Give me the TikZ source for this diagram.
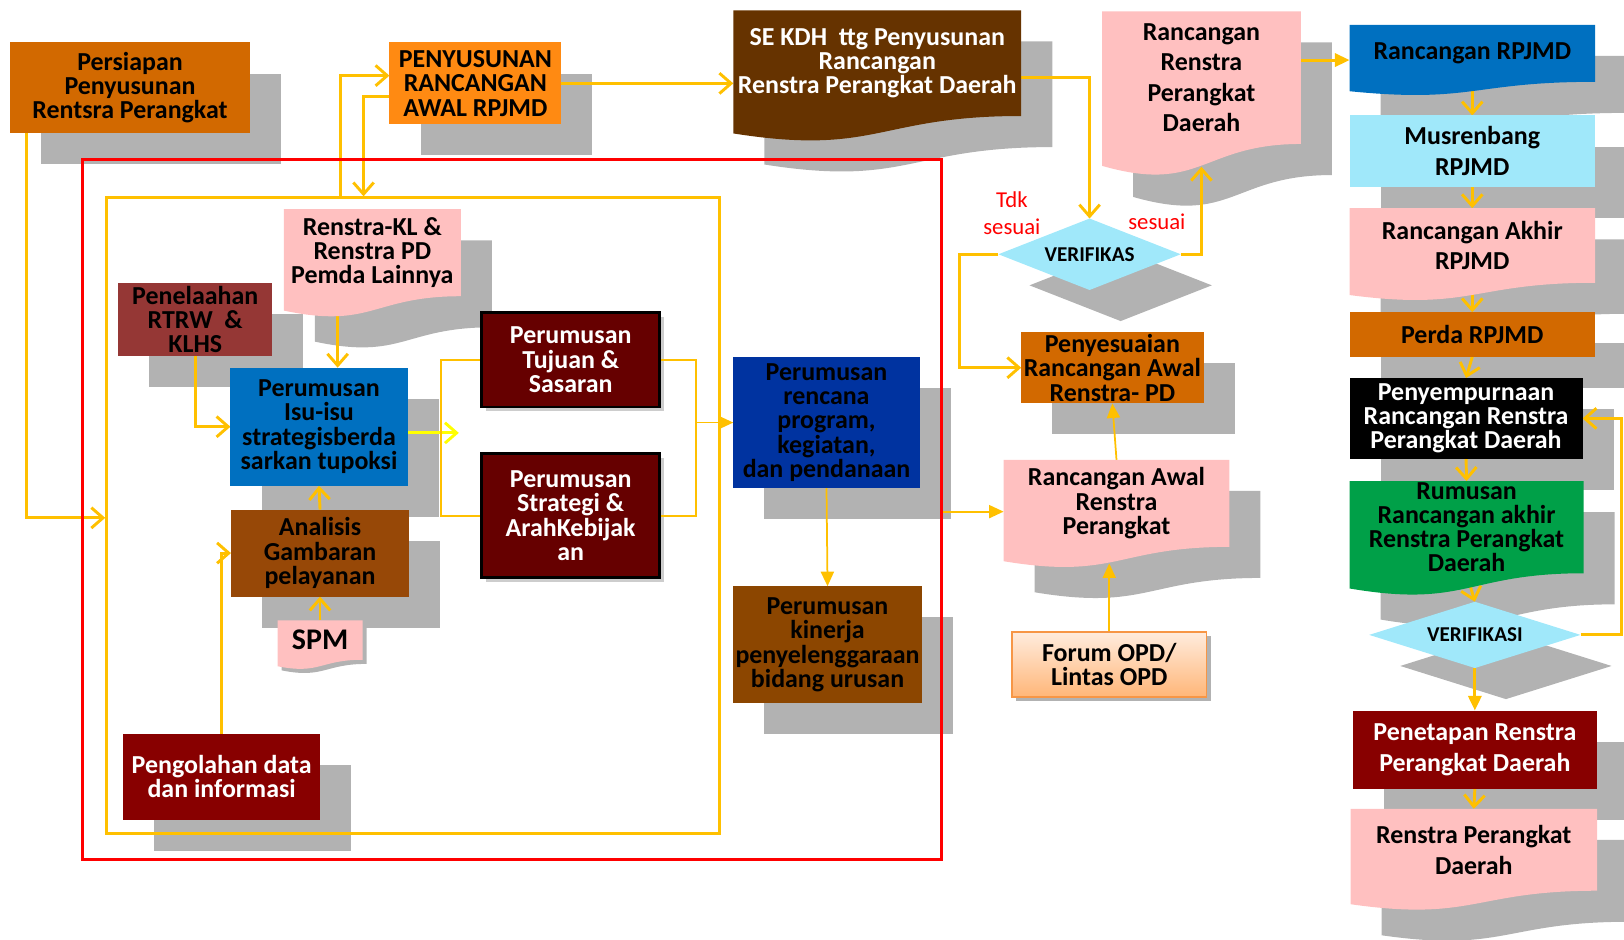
\documentclass[tikz,border=0pt]{standalone}
\usepackage{fontspec}
\setmainfont{Carlito}
\usepackage{tikz}
\usetikzlibrary{positioning}
\usetikzlibrary{calc}
\usetikzlibrary{arrows.meta}
\usetikzlibrary{shapes.geometric}

\definecolor{amber}{RGB}{255,192,0}
\definecolor{brightyellow}{RGB}{255,255,0}
\definecolor{orangebox}{RGB}{210,105,0}
\definecolor{brightorange}{RGB}{255,138,18}
\definecolor{sebrown}{RGB}{102,51,0}
\definecolor{pinkbox}{RGB}{255,192,192}
\definecolor{bluebox}{RGB}{0,112,192}
\definecolor{cyanbox}{RGB}{160,232,250}
\definecolor{greenbox}{RGB}{0,160,72}
\definecolor{maroonbox}{RGB}{136,0,0}
\definecolor{penelaahcol}{RGB}{149,55,53}
\definecolor{analisiscol}{RGB}{151,72,7}
\definecolor{tujuancol}{RGB}{102,0,0}
\definecolor{progcol}{RGB}{0,51,160}
\definecolor{kinerjacol}{RGB}{140,70,0}
\definecolor{shadowgray}{RGB}{178,178,178}
\definecolor{lightshadow}{RGB}{205,205,205}
\definecolor{forumtop}{RGB}{255,236,222}
\definecolor{forumbot}{RGB}{255,182,120}
\definecolor{forumedge}{RGB}{247,150,70}

\newcommand{\boxfont}{\bfseries\fontsize{17.8}{16.7}\selectfont}
\newcommand{\widefont}{\bfseries\fontsize{17.8}{21}\selectfont}

% wavy bottom document shape, #3 = offset for the shadow copy
\newcommand{\docshape}[3]{%
  \fill[#1] let \p1=($(#2.north west)+(#3,#3)$), \p2=($(#2.south east)+(#3,#3)$), \n1={\y1-\y2} in
    (\p1) -- (\x2,\y1) -- (\p2)
    .. controls ({0.5*\x1+0.5*\x2},\y2) and ({0.5*\x1+0.5*\x2},{\y2-0.38*\n1})
    .. (\x1,{\y2-0.165*\n1}) -- cycle;}
\newcommand{\boxshadow}[3]{\fill[#3] ($(#1.north west)+(#2,#2)$) rectangle ($(#1.south east)+(#2,#2)$);}
\newcommand{\diashadow}[2]{\fill[shadowgray] ($(#1.north)+(#2,#2)$) -- ($(#1.east)+(#2,#2)$) -- ($(#1.south)+(#2,#2)$) -- ($(#1.west)+(#2,#2)$) -- cycle;}

\pgfdeclarelayer{shadelayer}
\pgfdeclarelayer{connlayer}
\pgfdeclarelayer{filllayer}
\pgfsetlayers{shadelayer,connlayer,filllayer,main}

\tikzset{
  box/.style={rectangle, inner sep=0pt, outer sep=0pt, align=center, font=\boxfont},
  widebox/.style={box, font=\widefont},
  sz/.style 2 args={minimum width=#1*0.025cm, minimum height=#2*0.025cm},
  darkbox/.style={box, fill=tujuancol, draw=black, line width=2pt, text=white},
  verif/.style={diamond, fill=cyanbox, inner sep=0pt, outer sep=0pt, font=\bfseries\fontsize{14.5}{16}\selectfont},
  remark/.style={align=center, text=red, inner sep=0pt, font=\fontsize{15.6}{18.5}\selectfont},
  flow/.style={draw=amber, line width=2pt},
  thinflow/.style={draw=amber, line width=1.2pt},
  opentip/.style={-{Straight Barb[length=8pt,width=14pt]}},
  solidtip/.style={-{Triangle[length=10pt,width=9pt]}}
}

\begin{document}
\begin{tikzpicture}[x=0.025cm, y=-0.025cm]
		\useasboundingbox (0,0) rectangle (1568,907);

		% frames
		\node[rectangle, draw=red, line width=2pt, sz={829}{676}](frame) at (494.5,492){};
		\node[rectangle, draw=amber, line width=2pt, sz={592}{614}](loop) at (399,498){};

		% top row
		\node[box, sz={231}{87}, fill=orangebox](persiapan) at (125.5,84.5){Persiapan\\Penyusunan\\Rentsra Perangkat};
		\node[box, sz={166}{79}, fill=brightorange](penyusunan) at (459,80.5){PENYUSUNAN\\RANCANGAN\\AWAL RPJMD};
		\node[box, sz={278}{102}, text=white](sekdh) at (847,61){SE KDH\ \ ttg Penyusunan\\Rancangan\\Renstra Perangkat Daerah};
		\node[widebox, sz={192}{128}](rancRenstra) at (1160,75){Rancangan\\Renstra\\Perangkat\\Daerah};

		% right column
		\node[box, sz={237}{55}](rancRPJMD) at (1421.5,51.5){Rancangan RPJMD};
		\node[widebox, sz={237}{69}, fill=cyanbox](musrenbang) at (1421.5,146){Musrenbang\\RPJMD};
		\node[widebox, sz={237}{72}](rancAkhir) at (1421.5,237){Rancangan Akhir\\RPJMD};
		\node[box, sz={237}{43}, fill=orangebox](perda) at (1421.5,323){Perda RPJMD};
		\node[box, sz={225}{78}, fill=black, text=white](penyempurnaan) at (1415.5,404){Penyempurnaan\\Rancangan Renstra\\Perangkat Daerah};
		\node[box, sz={226}{89}](rumusan) at (1416,509){Rumusan\\Rancangan akhir\\Renstra Perangkat\\Daerah};
		\node[verif, aspect=3.2, sz={204}{64}](verif2) at (1424,613){VERIFIKASI};
		\node[widebox, sz={236}{76}, fill=maroonbox, text=white](penetapan) at (1424,724){Penetapan Renstra\\Perangkat Daerah};
		\node[widebox, sz={238}{79}](renstraPD) at (1423,820.5){Renstra Perangkat\\Daerah};

		% middle column
		\node[verif, aspect=2.55, sz={176}{69}](verif1) at (1052,245.5){VERIFIKAS};
		\node[remark](tdk) at (977,206){Tdk\\sesuai};
		\node[remark](sesuai) at (1117,214){sesuai};
		\node[box, sz={176}{69}, fill=orangebox](penyesuaian) at (1074,355){Penyesuaian\\Rancangan Awal\\Renstra- PD};
		\node[box, sz={218}{84}](rancAwal) at (1078,486){Rancangan Awal\\Renstra\\Perangkat};
		\node[box, sz={188}{63}, top color=forumtop, bottom color=forumbot, draw=forumedge, line width=1pt](forum) at (1071,641.5){Forum OPD/\\Lintas OPD};

		% inside the frame
		\node[box, sz={171}{84}](renstraKL) at (359.5,244){Renstra-KL \&\\Renstra PD\\Pemda Lainnya};
		\node[box, sz={171}{114}, fill=bluebox](isu) at (308,412){Perumusan\\Isu-isu\\strategisberda\\sarkan tupoksi};
		\node[box, sz={149}{70}, fill=penelaahcol](penelaahan) at (188.5,308.5){Penelaahan\\RTRW\ \ \&\\KLHS};
		\node[box, sz={172}{84}, fill=analisiscol](analisis) at (309,534){Analisis\\Gambaran\\pelayanan};
		\node[box, sz={82}{38}, font=\bfseries\fontsize{20.6}{22}\selectfont](spm) at (309,618){SPM};
		\node[box, sz={190}{83}, fill=maroonbox, text=white](pengolahan) at (214,750){Pengolahan data\\dan informasi};
		\node[darkbox, sz={172}{91}](tujuan) at (551,347.5){Perumusan\\Tujuan \&\\Sasaran};
		\node[darkbox, sz={172}{120}](strategi) at (551,498){Perumusan\\Strategi \&\\ArahKebijak\\an};
		\node[box, sz={180}{126}, fill=progcol](program) at (798,408){Perumusan\\rencana\\program,\\kegiatan,\\dan pendanaan};
		\node[box, sz={182}{113}, fill=kinerjacol](kinerja) at (799,622.5){Perumusan\\kinerja\\penyelenggaraan\\bidang urusan};
		\coordinate (split) at (443,418);

		% shadows
		\begin{pgfonlayer}{shadelayer}
		\boxshadow{persiapan}{30}{shadowgray}
		\boxshadow{penyusunan}{30}{shadowgray}
		\docshape{shadowgray}{sekdh}{30}
		\docshape{shadowgray}{rancRenstra}{30}
		\docshape{shadowgray}{rancRPJMD}{30}
		\boxshadow{musrenbang}{30}{shadowgray}
		\docshape{shadowgray}{rancAkhir}{30}
		\boxshadow{perda}{30}{shadowgray}
		\boxshadow{penyempurnaan}{30}{shadowgray}
		\docshape{shadowgray}{rumusan}{30}
		\diashadow{verif2}{30}
		\boxshadow{penetapan}{30}{shadowgray}
		\docshape{shadowgray}{renstraPD}{30}
		\diashadow{verif1}{30}
		\boxshadow{penyesuaian}{30}{shadowgray}
		\docshape{shadowgray}{rancAwal}{30}
		\boxshadow{forum}{4}{shadowgray}
		\docshape{shadowgray}{renstraKL}{30}
		\boxshadow{penelaahan}{30}{shadowgray}
		\boxshadow{isu}{30}{shadowgray}
		\boxshadow{analisis}{30}{shadowgray}
		\docshape{shadowgray}{spm}{4}
		\boxshadow{pengolahan}{30}{shadowgray}
		\boxshadow{tujuan}{4}{lightshadow}
		\boxshadow{strategi}{4}{lightshadow}
		\boxshadow{program}{30}{shadowgray}
		\boxshadow{kinerja}{30}{shadowgray}
		\end{pgfonlayer}

		% document fills
		\begin{pgfonlayer}{filllayer}
		\docshape{sebrown}{sekdh}{0}
		\docshape{pinkbox}{rancRenstra}{0}
		\docshape{bluebox}{rancRPJMD}{0}
		\docshape{pinkbox}{rancAkhir}{0}
		\docshape{greenbox}{rumusan}{0}
		\docshape{pinkbox}{renstraPD}{0}
		\docshape{pinkbox}{rancAwal}{0}
		\docshape{pinkbox}{renstraKL}{0}
		\docshape{pinkbox}{spm}{0}
		\end{pgfonlayer}

		\begin{pgfonlayer}{connlayer}
		% draw top edges
		\draw[flow, opentip] ($(persiapan.south west)+(16,0)$) |- (loop.west |- 0,500);
		\draw[flow, opentip] (loop.north -| 329,0) |- (penyusunan.west |- 0,73);
		\draw[flow, opentip] (penyusunan.west |- 0,93) -| (loop.north -| 351,0);
		\draw[flow, opentip] (penyusunan.east) -- (penyusunan.east -| sekdh.west);
		\draw[flow, opentip] (sekdh.east |- 0,75) -| (verif1.north);

		% draw verification edges
		\draw[flow, opentip] (verif1.west) -- ++(-38,0) |- (penyesuaian.west);
		\draw[flow, opentip] (verif1.east) -| ($(rancRenstra.south)+(0,22)$);
		\draw[flow, solidtip] (rancRenstra.east |- 0,58) -- (rancRPJMD.west |- 0,58);

		% draw right column edges
		\draw[flow, opentip] (rancRPJMD.south) -- (musrenbang.north);
		\draw[flow, opentip] (musrenbang.south) -- (rancAkhir.north);
		\draw[flow, opentip] (rancAkhir.south) -- (perda.north);
		\draw[flow, opentip] (perda.south) -- (penyempurnaan.north);
		\draw[flow, opentip] (penyempurnaan.south) -- (rumusan.north);
		\draw[flow, opentip] (rumusan.south) -- (verif2.north);
		\draw[flow, solidtip] (verif2.south) -- (penetapan.north);
		\draw[flow, opentip] (penetapan.south) -- (renstraPD.north);
		\draw[flow, opentip] (verif2.east) -- ++(40,0) |- (penyempurnaan.east);

		% draw inner edges
		\draw[flow, opentip] (renstraKL.south -| 326,0) -- (isu.north -| 326,0);
		\draw[flow, opentip] (penelaahan.south) |- (isu.west);
		\draw[flow, opentip] (analisis.north) -- (isu.south);
		\draw[flow, opentip] (spm.north) -- (analisis.south);
		\draw[flow, opentip] (pengolahan.north) |- (analisis.west);
		\draw[flow, draw=brightyellow, opentip] (isu.east |- split) -- (split);
		\draw[thinflow] (tujuan.west) -- ++(-39,0) |- (strategi.west);
		\draw[thinflow] (tujuan.east) -- ++(35,0) |- (strategi.east);
		\draw[thinflow, solidtip] ($(tujuan.east |- program.west)+(35,0)$) -- (program.west);
		\draw[thinflow, solidtip] (program.south) -- (kinerja.north);

		% draw edges to the awal draft
		\draw[thinflow, solidtip] (frame.east |- 0,494) -- (rancAwal.west |- 0,494);
		\draw[thinflow, solidtip] (rancAwal.north) -- (penyesuaian.south);
		\draw[thinflow, solidtip] (forum.north) -- ($(rancAwal.south -| forum.north)+(0,16)$);
		\end{pgfonlayer}

	\end{tikzpicture}
\end{document}
